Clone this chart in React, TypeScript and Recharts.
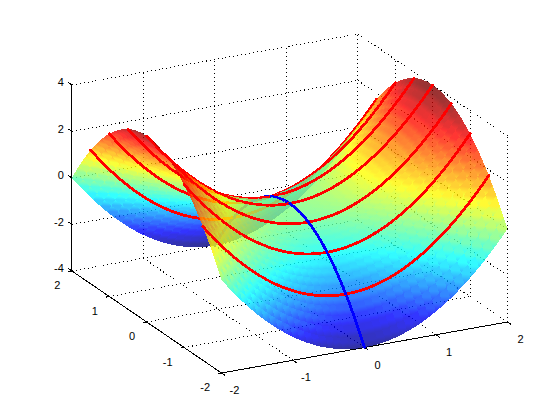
import { ComposedChart, Line, Scatter, XAxis, YAxis } from "recharts";

// sample positions along both horizontal axes
const gridPositions = [
  -2, -1.9, -1.8, -1.7, -1.6, -1.5, -1.4, -1.3, -1.2, -1.1, -1, -0.9, -0.8, -0.7,
  -0.6, -0.5, -0.4, -0.3, -0.2, -0.1, 0, 0.1, 0.2, 0.3, 0.4, 0.5, 0.6, 0.7, 0.8,
  0.9, 1, 1.1, 1.2, 1.3, 1.4, 1.5, 1.6, 1.7, 1.8, 1.9, 2
];
// height contributed by the x position and by the y position
const ridgeHeights = [
  4, 3.61, 3.24, 2.89, 2.56, 2.25, 1.96, 1.69, 1.44, 1.21, 1, 0.81, 0.64, 0.49,
  0.36, 0.25, 0.16, 0.09, 0.04, 0.01, 0, 0.01, 0.04, 0.09, 0.16, 0.25, 0.36, 0.49,
  0.64, 0.81, 1, 1.21, 1.44, 1.69, 1.96, 2.25, 2.56, 2.89, 3.24, 3.61, 4
];
const valleyDepths = [
  -4, -3.61, -3.24, -2.89, -2.56, -2.25, -1.96, -1.69, -1.44, -1.21, -1, -0.81,
  -0.64, -0.49, -0.36, -0.25, -0.16, -0.09, -0.04, -0.01, 0, -0.01, -0.04, -0.09,
  -0.16, -0.25, -0.36, -0.49, -0.64, -0.81, -1, -1.21, -1.44, -1.69, -1.96, -2.25,
  -2.56, -2.89, -3.24, -3.61, -4
];
// grid indices of the curves drawn on the surface
const redLineRows = [5, 10, 15, 20, 25, 30, 35];
const blueLineColumn = 20;

const xTicks = [-2, -1, 0, 1, 2];
const yTicks = [-2, -1, 0, 1, 2];
const zTicks = [-4, -2, 0, 2, 4];

const SURFACE_ALPHA = 0.8;

// orthographic view
const ORIGIN = { x: 221.5, y: 373 };
const EX = { x: 71.5, y: -12.75 };
const EY = { x: -37.4, y: -25.5 };
const EZ = { x: 0, y: -23.25 };
const CAMERA = { x: -870, y: -1662, z: 2300 };

function project(x: number, y: number, z: number) {
  return {
    sx: ORIGIN.x + (x + 2) * EX.x + (y + 2) * EY.x + (z + 4) * EZ.x,
    sy: ORIGIN.y + (x + 2) * EX.y + (y + 2) * EY.y + (z + 4) * EZ.y
  };
}

const nearness = (x: number, y: number, z: number) =>
  CAMERA.x * x + CAMERA.y * y + CAMERA.z * z;

function jet(z: number) {
  const v = Math.min(1, Math.max(0, (z + 4) / 8));
  const ramp = (c: number) =>
    Math.round(255 * Math.min(1, Math.max(0, 1.5 - Math.abs(4 * v - c))));
  return `rgb(${ramp(3)},${ramp(2)},${ramp(1)})`;
}

const heightAt = (i: number, j: number) => ridgeHeights[i] + valleyDepths[j];
const pointAt = (i: number, j: number) =>
  project(gridPositions[i], gridPositions[j], heightAt(i, j));

function cellNearness(i: number, j: number) {
  const mid = (gridPositions[i] + gridPositions[i + 1]) / 2;
  const midY = (gridPositions[j] + gridPositions[j + 1]) / 2;
  const z =
    (heightAt(i, j) + heightAt(i + 1, j) + heightAt(i, j + 1) + heightAt(i + 1, j + 1)) / 4;
  return nearness(mid, midY, z);
}

type Pt = { sx: number; sy: number };
type Mark = {
  sx: number;
  sy: number;
  key: number;
  color: string;
  corners: Pt[];
  stroke: boolean;
  id: string;
  ramp?: { from: Pt; to: Pt; stops: string[] };
};

// colour ramp across one cell, so the interpolated shading stays smooth
function cellRamp(i: number, j: number) {
  const p = pointAt(i, j);
  const a = pointAt(i + 1, j);
  const b = pointAt(i, j + 1);
  const z0 = heightAt(i, j);
  const z1 = (heightAt(i + 1, j) + heightAt(i + 1, j + 1) - heightAt(i, j + 1)) - z0;
  const z2 = (heightAt(i, j + 1) + heightAt(i + 1, j + 1) - heightAt(i + 1, j)) - z0;
  const v1 = { x: a.sx - p.sx, y: a.sy - p.sy };
  const v2 = { x: b.sx - p.sx, y: b.sy - p.sy };
  const det = v1.x * v2.y - v1.y * v2.x;
  if (Math.abs(det) < 2) return undefined;
  const gx = (z1 * v2.y - z2 * v1.y) / det;
  const gy = (z2 * v1.x - z1 * v2.x) / det;
  const len = gx * gx + gy * gy;
  if (len < 1e-8) return undefined;
  const zs = [z0, heightAt(i + 1, j), heightAt(i, j + 1), heightAt(i + 1, j + 1)];
  const lo = Math.min(...zs);
  const hi = Math.max(...zs);
  return {
    from: { sx: p.sx + (gx * (lo - z0)) / len, sy: p.sy + (gy * (lo - z0)) / len },
    to: { sx: p.sx + (gx * (hi - z0)) / len, sy: p.sy + (gy * (hi - z0)) / len },
    stops: [jet(lo), jet((lo + hi) / 2), jet(hi)]
  };
}

const marks: Mark[] = [];
const last = gridPositions.length - 1;

for (let i = 0; i < last; i++) {
  for (let j = 0; j < last; j++) {
    const corners = [pointAt(i, j), pointAt(i + 1, j), pointAt(i + 1, j + 1), pointAt(i, j + 1)];
    const z =
      (heightAt(i, j) + heightAt(i + 1, j) + heightAt(i, j + 1) + heightAt(i + 1, j + 1)) / 4;
    marks.push({
      sx: corners[0].sx,
      sy: corners[0].sy,
      key: cellNearness(i, j),
      color: jet(z),
      corners,
      stroke: false,
      id: `cell${i}_${j}`,
      ramp: cellRamp(i, j)
    });
  }
}

redLineRows.forEach((j) => {
  for (let i = 0; i < last; i++) {
    const a = pointAt(i, j);
    marks.push({
      sx: a.sx,
      sy: a.sy,
      key: Math.max(cellNearness(i, j), cellNearness(i, j - 1)) + 1,
      color: "#ff0000",
      corners: [a, pointAt(i + 1, j)],
      stroke: true,
      id: `red${i}_${j}`
    });
  }
});

for (let j = 0; j < last; j++) {
  const a = pointAt(blueLineColumn, j);
  marks.push({
    sx: a.sx,
    sy: a.sy,
    key: Math.max(cellNearness(blueLineColumn, j), cellNearness(blueLineColumn - 1, j)) + 2,
    color: "#0000ff",
    corners: [a, pointAt(blueLineColumn, j + 1)],
    stroke: true,
    id: `blue${j}`
  });
}

marks.sort((a, b) => a.key - b.key);

function SurfaceMark(props: any) {
  const { cx, cy, payload } = props;
  const m: Mark = payload;
  const dx = cx - m.sx;
  const dy = cy - m.sy;
  const pts = m.corners.map((c) => `${c.sx + dx},${c.sy + dy}`).join(" ");
  if (m.stroke) {
    return (
      <polyline
        points={pts}
        fill="none"
        stroke={m.color}
        strokeWidth={2.8}
        strokeLinecap="round"
        shapeRendering="crispEdges"
      />
    );
  }
  if (!m.ramp) {
    return <polygon points={pts} fill={m.color} fillOpacity={SURFACE_ALPHA} shapeRendering="crispEdges" />;
  }
  return (
    <g>
      <defs>
        <linearGradient
          id={m.id}
          gradientUnits="userSpaceOnUse"
          x1={m.ramp.from.sx + dx}
          y1={m.ramp.from.sy + dy}
          x2={m.ramp.to.sx + dx}
          y2={m.ramp.to.sy + dy}
        >
          <stop offset="0" stopColor={m.ramp.stops[0]} />
          <stop offset="0.5" stopColor={m.ramp.stops[1]} />
          <stop offset="1" stopColor={m.ramp.stops[2]} />
        </linearGradient>
      </defs>
      <polygon points={pts} fill={`url(#${m.id})`} fillOpacity={SURFACE_ALPHA} shapeRendering="crispEdges" />
    </g>
  );
}

type P3 = [number, number, number];
const seg = (a: P3, b: P3) => [project(...a), project(...b)];

const dottedLines = [
  ...xTicks.map((x) => seg([x, 2, -4], [x, 2, 4])),
  ...zTicks.map((z) => seg([-2, 2, z], [2, 2, z])),
  ...yTicks.map((y) => seg([2, y, -4], [2, y, 4])),
  ...zTicks.map((z) => seg([2, -2, z], [2, 2, z])),
  ...xTicks.map((x) => seg([x, -2, -4], [x, 2, -4])),
  ...yTicks.map((y) => seg([-2, y, -4], [2, y, -4]))
];

const solidLines = [
  seg([-2, 2, -4], [-2, 2, 4]),
  seg([-2, -2, -4], [-2, 2, -4]),
  seg([-2, -2, -4], [2, -2, -4]),
  ...zTicks.map((z) => seg([-2, 2, z], [-2, 2.1, z])),
  ...yTicks.map((y) => seg([-2, y, -4], [-2.05, y, -4])),
  ...xTicks.map((x) => seg([x, -2, -4], [x, -2.1, -4]))
];

const tickLabels = [
  ...zTicks.map((z) => {
    const p = project(-2, 2, z);
    return { sx: p.sx - 8, sy: p.sy - 3, text: String(z), anchor: "end" };
  }),
  ...yTicks.map((y) => {
    const p = project(-2, y, -4);
    return { sx: p.sx - 11.5, sy: p.sy + 14, text: String(y), anchor: "end" };
  }),
  ...xTicks.map((x) => {
    const p = project(x, -2, -4);
    return { sx: p.sx + 13, sy: p.sy + 17, text: String(x), anchor: "middle" };
  })
];

function TickLabel(props: any) {
  const { cx, cy, payload } = props;
  return (
    <text
      x={cx}
      y={cy}
      textAnchor={payload.anchor}
      dominantBaseline="central"
      fontFamily="Liberation Sans, Arial, sans-serif"
      fontSize={11}
      fill="#000"
    >
      {payload.text}
    </text>
  );
}

export default function App() {
  return (
    <div style={{ position: "absolute", left: 0, top: 0, width: 560, height: 420 }}>
      <ComposedChart width={560} height={420} margin={{ top: 0, right: 0, bottom: 0, left: 0 }}>
        <XAxis type="number" dataKey="sx" domain={[0, 560]} hide allowDataOverflow />
        <YAxis type="number" dataKey="sy" domain={[0, 420]} reversed hide allowDataOverflow />
        {dottedLines.map((d, n) => (
          <Line
            key={`dot${n}`}
            data={d}
            dataKey="sy"
            stroke="#000"
            strokeWidth={1}
            strokeDasharray="1 3"
            shapeRendering="crispEdges"
            dot={false}
            legendType="none"
            isAnimationActive={false}
          />
        ))}
        {solidLines.map((d, n) => (
          <Line
            key={`solid${n}`}
            data={d}
            dataKey="sy"
            stroke="#000"
            strokeWidth={1}
            shapeRendering="crispEdges"
            dot={false}
            legendType="none"
            isAnimationActive={false}
          />
        ))}
        <Scatter data={marks} shape={SurfaceMark} isAnimationActive={false} />
        <Scatter data={tickLabels} shape={TickLabel} isAnimationActive={false} />
      </ComposedChart>
    </div>
  );
}
